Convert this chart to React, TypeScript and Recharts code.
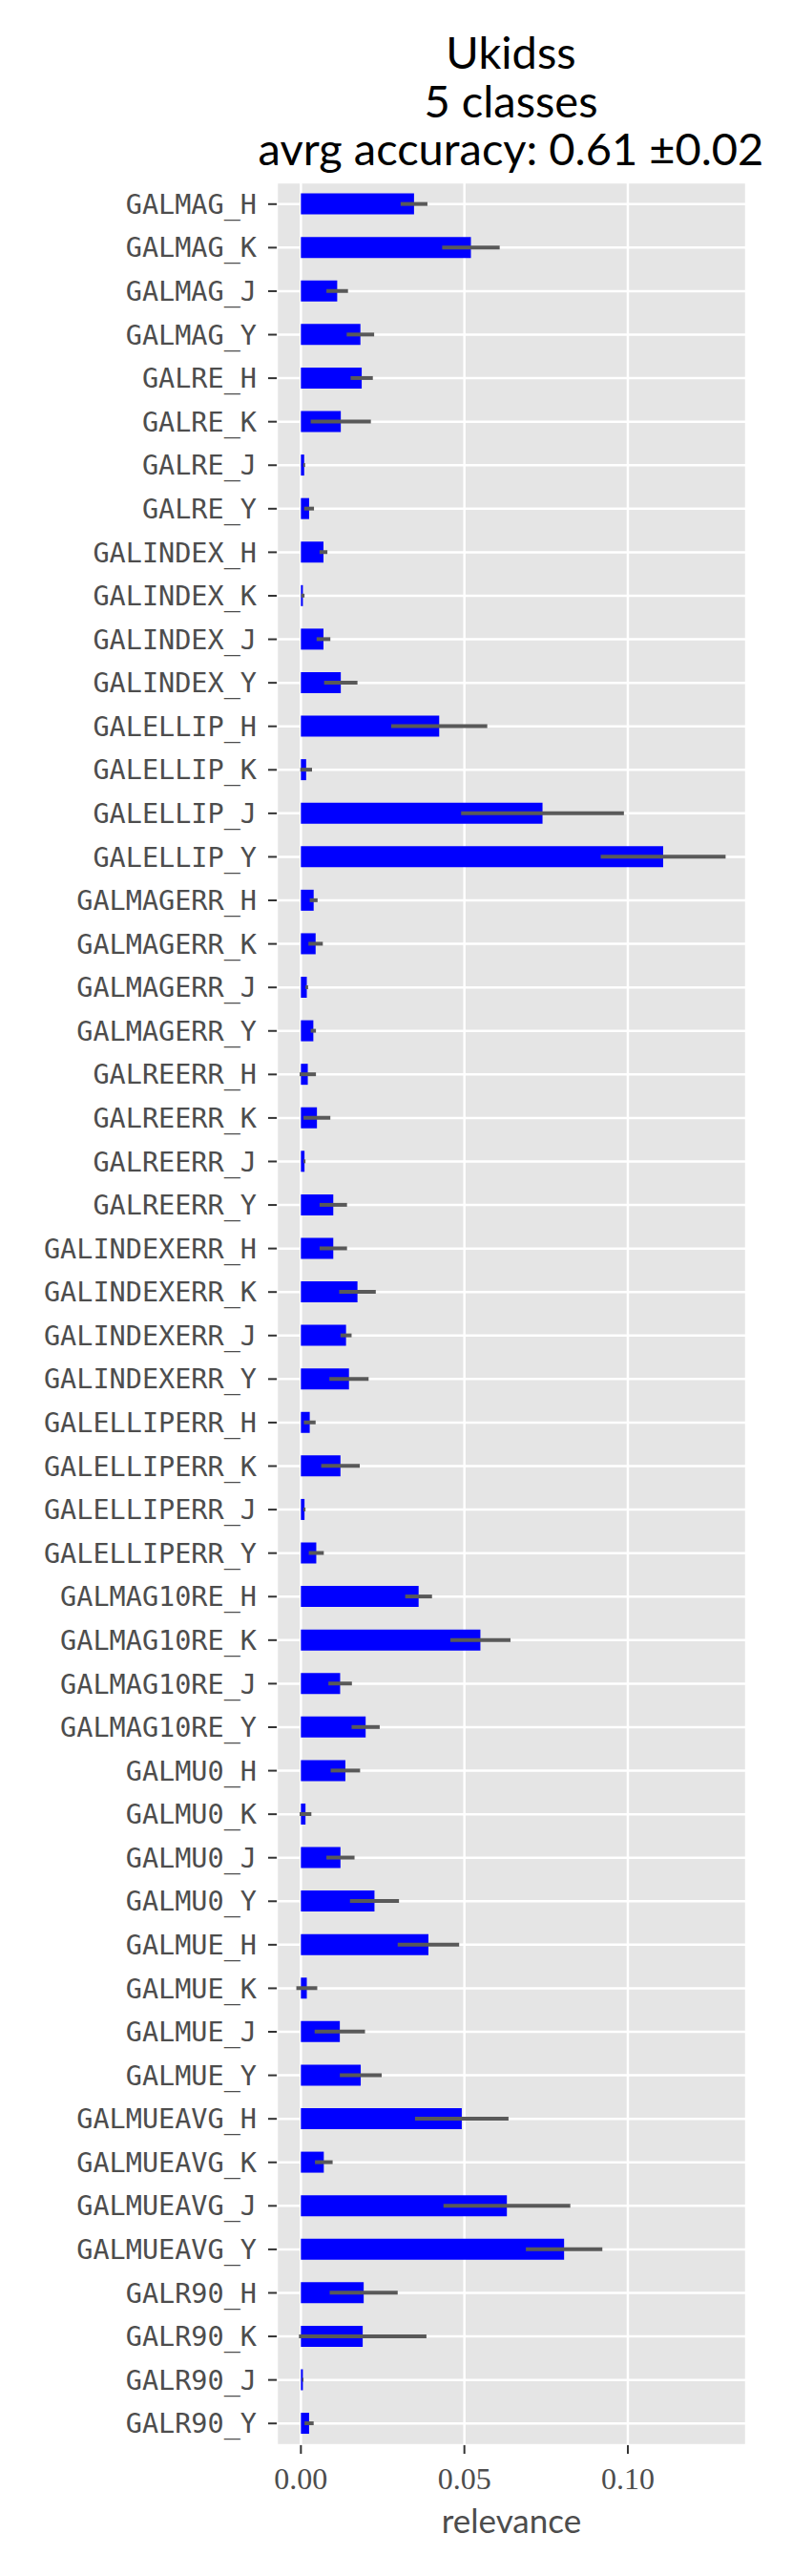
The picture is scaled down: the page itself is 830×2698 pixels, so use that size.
import { BarChart, Bar, XAxis, YAxis, CartesianGrid, ErrorBar } from 'recharts';

// feature names, top to bottom
const features = [
  'GALMAG_H', 'GALMAG_K', 'GALMAG_J', 'GALMAG_Y',
  'GALRE_H', 'GALRE_K', 'GALRE_J', 'GALRE_Y',
  'GALINDEX_H', 'GALINDEX_K', 'GALINDEX_J', 'GALINDEX_Y',
  'GALELLIP_H', 'GALELLIP_K', 'GALELLIP_J', 'GALELLIP_Y',
  'GALMAGERR_H', 'GALMAGERR_K', 'GALMAGERR_J', 'GALMAGERR_Y',
  'GALREERR_H', 'GALREERR_K', 'GALREERR_J', 'GALREERR_Y',
  'GALINDEXERR_H', 'GALINDEXERR_K', 'GALINDEXERR_J', 'GALINDEXERR_Y',
  'GALELLIPERR_H', 'GALELLIPERR_K', 'GALELLIPERR_J', 'GALELLIPERR_Y',
  'GALMAG10RE_H', 'GALMAG10RE_K', 'GALMAG10RE_J', 'GALMAG10RE_Y',
  'GALMU0_H', 'GALMU0_K', 'GALMU0_J', 'GALMU0_Y',
  'GALMUE_H', 'GALMUE_K', 'GALMUE_J', 'GALMUE_Y',
  'GALMUEAVG_H', 'GALMUEAVG_K', 'GALMUEAVG_J', 'GALMUEAVG_Y',
  'GALR90_H', 'GALR90_K', 'GALR90_J', 'GALR90_Y',
];

// mean relevance
const relevance = [
  0.0346, 0.0520, 0.0111, 0.0182,
  0.0186, 0.0122, 0.0010, 0.0025,
  0.0069, 0.0006, 0.0069, 0.0122,
  0.0423, 0.0016, 0.0739, 0.1108,
  0.0039, 0.0045, 0.0018, 0.0038,
  0.0021, 0.0049, 0.0011, 0.0099,
  0.0099, 0.0173, 0.0138, 0.0147,
  0.0027, 0.0121, 0.0011, 0.0047,
  0.0360, 0.0549, 0.0120, 0.0198,
  0.0136, 0.0014, 0.0121, 0.0225,
  0.0390, 0.0018, 0.0119, 0.0183,
  0.0492, 0.0070, 0.0630, 0.0805,
  0.0192, 0.0189, 0.0006, 0.0025,
];

// +/- spread drawn as the grey bar
const spread = [
  0.0041, 0.0088, 0.0033, 0.0042,
  0.0034, 0.0092, 0.0003, 0.0015,
  0.0012, 0.0005, 0.0021, 0.0051,
  0.0147, 0.0018, 0.0249, 0.0191,
  0.0012, 0.0022, 0.0004, 0.0008,
  0.0025, 0.0041, 0.0003, 0.0042,
  0.0042, 0.0056, 0.0017, 0.0060,
  0.0018, 0.0059, 0.0003, 0.0023,
  0.0041, 0.0092, 0.0036, 0.0043,
  0.0045, 0.0018, 0.0043, 0.0075,
  0.0094, 0.0032, 0.0077, 0.0064,
  0.0143, 0.0027, 0.0194, 0.0117,
  0.0104, 0.0195, 0.0002, 0.0014,
];

const xTicks = [0, 0.05, 0.1];
const titleLines = ['Ukidss', '5 classes', 'avrg accuracy: 0.61 \u00b10.02'];

const data = features.map((name, i) => ({
  name,
  relevance: relevance[i],
  err: spread[i],
}));

export default function App() {
  return (
    <div
      style={{
        position: 'absolute',
        left: 0,
        top: 0,
        width: 830,
        height: 2698,
        background: '#ffffff',
      }}
    >
      <BarChart
        width={830}
        height={2698}
        data={data}
        layout="vertical"
        margin={{ top: 191, right: 48, bottom: 77, left: 20 }}
        barCategoryGap="25.5%"
      >
        <CartesianGrid fill="#e5e5e5" stroke="#ffffff" strokeWidth={2.5} />
        <XAxis
          type="number"
          domain={[-0.0074, 0.1362]}
          allowDataOverflow
          ticks={xTicks}
          tickFormatter={(v) => v.toFixed(2)}
          height={60}
          axisLine={false}
          tickLine={{ stroke: '#333333', strokeWidth: 2 }}
          tickSize={9}
          tickMargin={14}
          tick={{ fill: '#4d4d4d', fontSize: 32, fontFamily: 'Liberation Serif' }}
        />
        <YAxis
          type="category"
          dataKey="name"
          width={270}
          interval={0}
          axisLine={false}
          tickLine={{ stroke: '#333333', strokeWidth: 2 }}
          tickSize={9}
          tickMargin={12}
          tick={{ fill: '#4d4d4d', fontSize: 28.5, fontFamily: 'DejaVu Sans Mono' }}
        />
        <Bar dataKey="relevance" fill="#0000ff" isAnimationActive={false}>
          <ErrorBar
            dataKey="err"
            direction="x"
            width={0}
            stroke="#595959"
            strokeWidth={4}
            isAnimationActive={false}
          />
        </Bar>
      </BarChart>
      <svg
        width={830}
        height={2698}
        style={{ position: 'absolute', left: 0, top: 0, pointerEvents: 'none' }}
      >
        {titleLines.map((t, i) => (
          <text
            key={t}
            x={535.5}
            y={72 + i * 50.5}
            textAnchor="middle"
            fontFamily="Lato"
            fontSize={47}
            fill="#000000"
          >
            {t}
          </text>
        ))}
        <text
          x={536}
          y={2653}
          textAnchor="middle"
          fontFamily="Lato"
          fontSize={35}
          fill="#4d4d4d"
        >
          relevance
        </text>
      </svg>
    </div>
  );
}
